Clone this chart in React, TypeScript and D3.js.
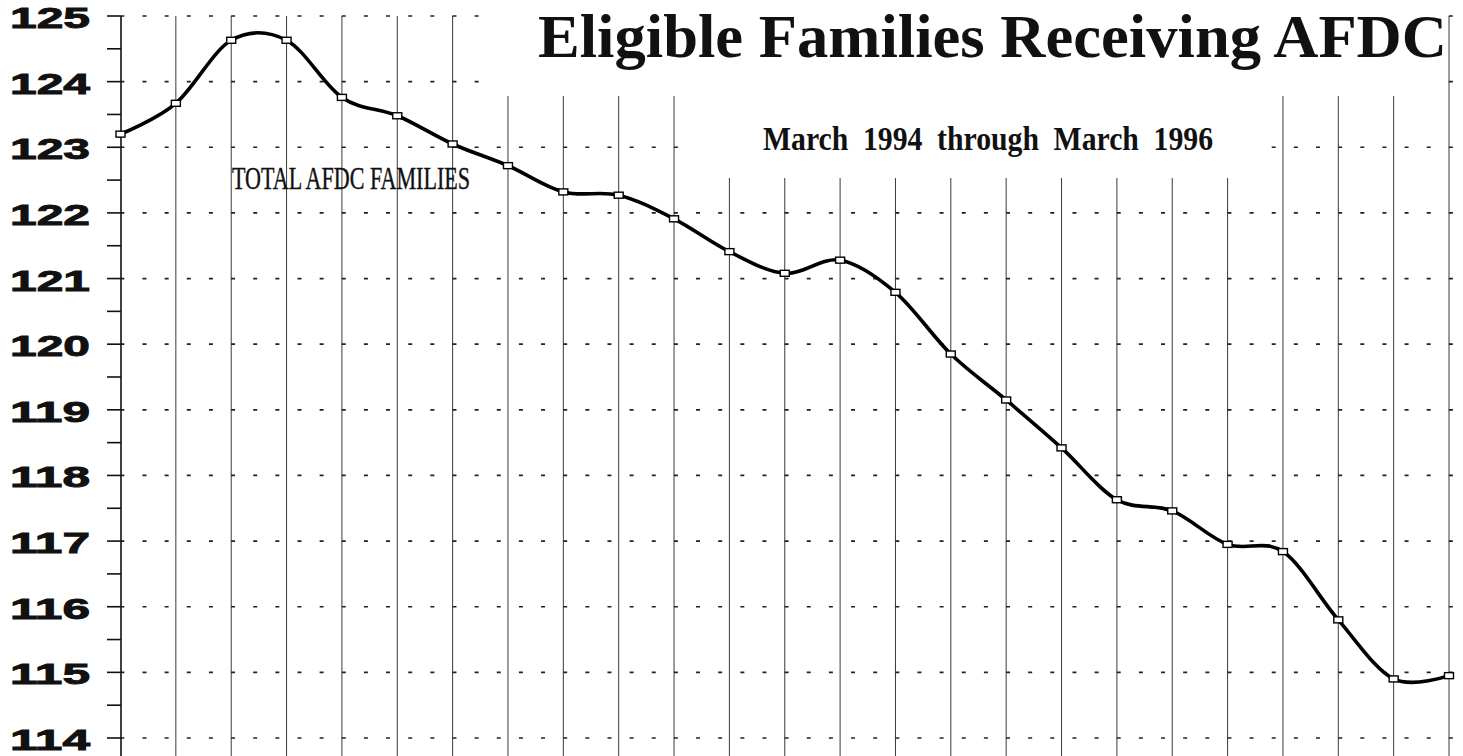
import React from 'react';
import * as d3 from 'd3';

// Monthly totals, March 1994 .. March 1996 (thousands of families)
const MONTHS = [
  'Mar 94', 'Apr 94', 'May 94', 'Jun 94', 'Jul 94', 'Aug 94', 'Sep 94', 'Oct 94', 'Nov 94', 'Dec 94',
  'Jan 95', 'Feb 95', 'Mar 95', 'Apr 95', 'May 95', 'Jun 95', 'Jul 95', 'Aug 95', 'Sep 95', 'Oct 95',
  'Nov 95', 'Dec 95', 'Jan 96', 'Feb 96', 'Mar 96',
];
const FAMILIES = [
  123.2, 123.67, 124.63, 124.63, 123.76, 123.48, 123.05, 122.72, 122.32, 122.27,
  121.91, 121.41, 121.08, 121.28, 120.79, 119.85, 119.15, 118.42, 117.63, 117.46,
  116.95, 116.84, 115.8, 114.9, 114.95,
];
const Y_TICKS = [114, 115, 116, 117, 118, 119, 120, 121, 122, 123, 124, 125];
const Y_MINOR = [114.5, 115.5, 116.5, 117.5, 118.5, 119.5, 120.5, 121.5, 122.5, 123.5, 124.5];

const TITLE = 'Eligible Families Receiving AFDC';
const SUBTITLE = 'March 1994 through March 1996';
const SERIES_LABEL = 'TOTAL AFDC FAMILIES';

const W = 1463;
const H = 756;

const App: React.FC = () => {
  const axisX = 121;
  const x = d3.scalePoint<string>().domain(MONTHS).range([120.5, 1449]);
  const y = d3.scaleLinear().domain([114, 125]).range([738, 16]);

  const line = d3
    .line<number>()
    .x((_, i) => x(MONTHS[i]) as number)
    .y((d) => y(d))
    .curve(d3.curveCardinal.tension(0));

  const step = x.step();
  const dashPeriod = step * 0.4;
  const dashLen = 4;

  return (
    <div style={{ position: 'absolute', left: 0, top: 0 }}>
      <svg width={W} height={H} style={{ display: 'block', background: '#fff' }}>
        {/* vertical grid lines, one per month */}
        <g stroke="#3a3a3a" strokeWidth={1}>
          {MONTHS.slice(1).map((m) => (
            <line key={m} x1={x(m)} x2={x(m)} y1={16} y2={H} />
          ))}
        </g>

        {/* dashed horizontal grid */}
        <g stroke="#222" strokeWidth={1.7}>
          {Y_TICKS.map((t) => (
            <line
              key={t}
              x1={axisX}
              x2={1455}
              y1={y(t)}
              y2={y(t)}
              strokeDasharray={`${dashLen} ${dashPeriod - dashLen}`}
              strokeDashoffset={dashPeriod - 21.5}
            />
          ))}
        </g>

        {/* white areas behind title and subtitle */}
        <rect x={480} y={0} width={964} height={96} fill="#fff" />
        <rect x={678} y={96} width={578} height={82} fill="#fff" />

        {/* y axis */}
        <g stroke="#111" strokeWidth={1.6}>
          <line x1={axisX} x2={axisX} y1={16} y2={H} />
          {Y_TICKS.concat(Y_MINOR).map((t) => (
            <line key={t} x1={107} x2={axisX} y1={y(t)} y2={y(t)} />
          ))}
        </g>
        <g
          fontFamily="'Liberation Sans', Arial, sans-serif"
          fontWeight="bold"
          fontSize={29}
          fill="#111"
          stroke="#111"
          strokeWidth={0.9}
        >
          {Y_TICKS.map((t) => (
            <text key={t} x={10} y={y(t) + 12} textLength={80} lengthAdjust="spacingAndGlyphs">
              {t}
            </text>
          ))}
        </g>

        {/* series */}
        <path d={line(FAMILIES) ?? ''} fill="none" stroke="#000" strokeWidth={3.6} />
        <g fill="#fff" stroke="#000" strokeWidth={1.4}>
          {FAMILIES.map((v, i) => (
            <rect key={i} x={(x(MONTHS[i]) as number) - 4.5} y={y(v) - 3} width={9} height={6} />
          ))}
        </g>

        <text
          x={232}
          y={189}
          fontFamily="'Liberation Serif', 'Times New Roman', serif"
          fontSize={31}
          fill="#111"
          stroke="#111"
          strokeWidth={0.4}
          textLength={238}
          lengthAdjust="spacingAndGlyphs"
        >
          {SERIES_LABEL}
        </text>

        <text
          x={538}
          y={57}
          fontFamily="'Liberation Serif', 'Times New Roman', serif"
          fontWeight="bold"
          fontSize={61}
          fill="#111"
          textLength={909}
          lengthAdjust="spacingAndGlyphs"
        >
          {TITLE}
        </text>
        <text
          x={763}
          y={150}
          fontFamily="'Liberation Serif', 'Times New Roman', serif"
          fontWeight="bold"
          fontSize={33}
          wordSpacing={8}
          fill="#111"
          textLength={450}
          lengthAdjust="spacingAndGlyphs"
        >
          {SUBTITLE}
        </text>
      </svg>
    </div>
  );
};

export default App;
